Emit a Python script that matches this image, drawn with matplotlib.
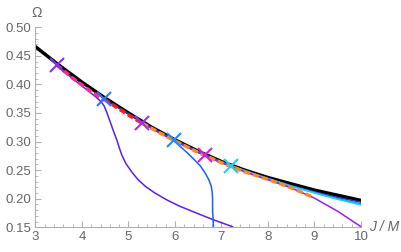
import matplotlib
matplotlib.use("Agg")
import matplotlib.pyplot as plt
from matplotlib.ticker import MultipleLocator

# main (thick black) curve
black_x = [3, 3.5, 4, 4.5, 5, 5.5, 6, 6.5, 7, 7.5, 8, 8.5, 9, 9.5, 10]
black_y = [0.466, 0.434, 0.404, 0.376, 0.350, 0.325, 0.303, 0.283, 0.265, 0.250,
           0.237, 0.226, 0.215, 0.206, 0.197]

# branch start points (crosses)
marker_x = [3.46, 4.48, 5.30, 5.99, 6.64, 7.20]
marker_y = [0.434, 0.374, 0.332, 0.302, 0.277, 0.258]
marker_colors = ["#8a2cf0", "#2a78ff", "#a030e8", "#1e8cff", "#d21ee6", "#22ccf0"]

# thin branches
violet_x = [3.46, 3.8, 4.1, 4.3, 4.42, 4.48, 4.54, 4.61, 4.68, 4.75, 4.80, 4.86,
            4.95, 5.08, 5.20, 5.36, 5.55, 5.8, 6.1, 6.4, 6.8, 7.24]
violet_y = [0.434, 0.410, 0.391, 0.378, 0.369, 0.362, 0.350, 0.334, 0.318, 0.303,
            0.290, 0.276, 0.261, 0.246, 0.234, 0.222, 0.211, 0.199, 0.187, 0.177,
            0.164, 0.151]

blue_s_x = [5.98, 6.12, 6.27, 6.42, 6.55, 6.65, 6.73, 6.78, 6.80, 6.81, 6.81,
            6.81, 6.82, 6.83]
blue_s_y = [0.301, 0.291, 0.280, 0.268, 0.257, 0.245, 0.233, 0.222, 0.212, 0.200,
            0.190, 0.178, 0.165, 0.150]

purple_x = [5.30, 6.0, 6.5, 7.0, 7.5, 8.0, 8.5, 9.0, 9.5, 10]
purple_y = [0.332, 0.301, 0.281, 0.263, 0.247, 0.233, 0.219, 0.201, 0.178, 0.151]

navy_x = [4.48, 5, 5.5, 6, 6.5, 7, 7.5, 8, 8.5, 9, 9.5, 10]
navy_y = [0.374, 0.349, 0.324, 0.302, 0.282, 0.264, 0.249, 0.235, 0.223, 0.212,
          0.202, 0.194]

dodger_x = [5.99, 6.5, 7, 7.5, 8, 8.5, 9, 9.5, 10]
dodger_y = [0.302, 0.282, 0.264, 0.249, 0.235, 0.222, 0.211, 0.200, 0.191]

cyan_x = [7.2, 7.5, 8, 8.5, 9, 9.5, 10]
cyan_y = [0.258, 0.249, 0.235, 0.222, 0.210, 0.199, 0.189]

# dashed pieces
pink_x = [3.46, 3.8, 4.1, 4.48]
pink_y = [0.434, 0.411, 0.393, 0.372]

red_x = [4.48, 4.8, 5.05, 5.30]
red_y = [0.374, 0.357, 0.344, 0.332]

orange_x = [5.30, 5.7, 6.1, 6.5, 7.0, 7.5, 8.0, 8.5, 8.93]
orange_y = [0.332, 0.314, 0.297, 0.281, 0.263, 0.247, 0.234, 0.219, 0.204]

gray = "#666666"
plt.rcParams["font.family"] = ["Liberation Sans", "DejaVu Sans"]

fig = plt.figure(figsize=(4.02, 2.52), dpi=100)
ax = fig.add_axes([0.088, 0.098, 0.810, 0.794])

ax.plot(black_x, black_y, color="black", lw=2.5, zorder=2)
ax.plot(navy_x, navy_y, color="#2438c8", lw=1.1, zorder=3)
ax.plot(dodger_x, dodger_y, color="#1e8cff", lw=1.1, zorder=3)
ax.plot(cyan_x, cyan_y, color="#22ccf0", lw=1.1, zorder=3)
ax.plot(violet_x, violet_y, color="#5a1ef0", lw=1.1, zorder=3)
ax.plot(blue_s_x, blue_s_y, color="#1e5cff", lw=1.1, zorder=3)
ax.plot(purple_x, purple_y, color="#9022f0", lw=1.1, zorder=3)

dash = (0, (1.8, 0.9))
ax.plot(pink_x, pink_y, color="#ff2a8a", lw=2.5, ls=dash, zorder=4)
ax.plot(red_x, red_y, color="#ff1a1a", lw=2.5, ls=dash, zorder=4)
ax.plot(orange_x, orange_y, color="#ff8a1a", lw=2.5, ls=dash, zorder=4)

for mx, my, mc in zip(marker_x, marker_y, marker_colors):
    ax.plot(mx, my, marker="x", color=mc, ms=9.5, mew=1.5, zorder=5)

ax.set_xlim(3, 10)
ax.set_ylim(0.15, 0.50)
ax.set_xticks([3, 4, 5, 6, 7, 8, 9, 10])
ax.set_yticks([0.15, 0.20, 0.25, 0.30, 0.35, 0.40, 0.45, 0.50])
ax.set_yticklabels(["0.15", "0.20", "0.25", "0.30", "0.35", "0.40", "0.45", "0.50"])
ax.xaxis.set_minor_locator(MultipleLocator(0.2))
ax.yaxis.set_minor_locator(MultipleLocator(0.01))

for s in ["top", "right"]:
    ax.spines[s].set_visible(False)
for s in ["left", "bottom"]:
    ax.spines[s].set_color("#b0b0b0")
    ax.spines[s].set_linewidth(0.8)

ax.tick_params(which="both", direction="in", color="#b0b0b0", labelcolor=gray,
               labelsize=9.5)
ax.tick_params(which="major", length=4, width=0.8, pad=3)
ax.tick_params(which="minor", length=2, width=0.6)

fig.text(0.091, 0.95, "Ω", ha="center", va="center", color=gray, fontsize=10)
fig.text(0.955, 0.098, "J / M", ha="center", va="center", color=gray, fontsize=10,
         style="italic")

fig.savefig("out.png", dpi=100)
